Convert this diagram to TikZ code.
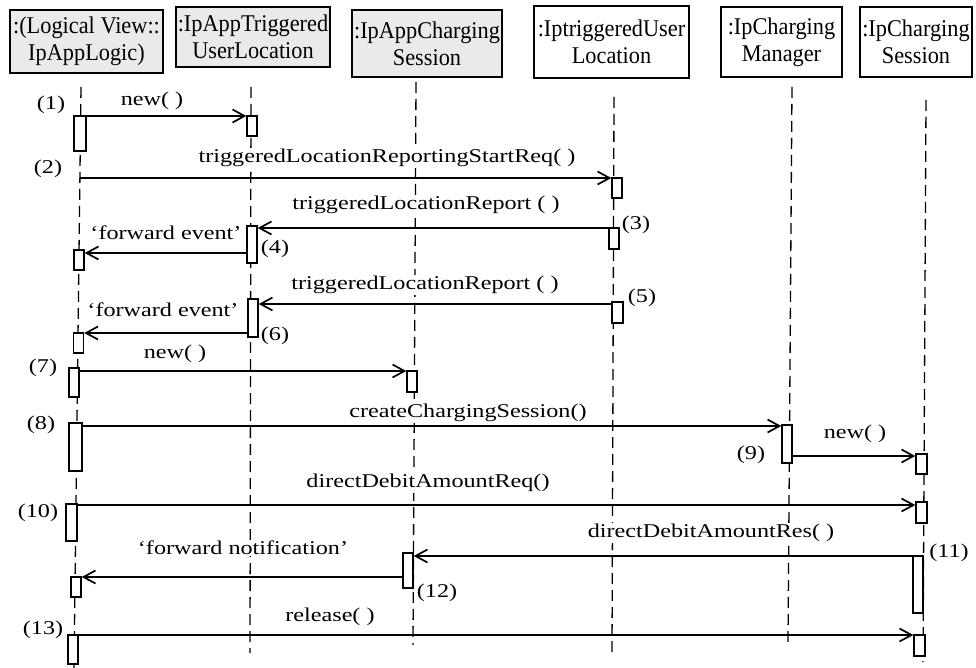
\documentclass[tikz,border=0pt]{standalone}
\usepackage{fontspec}
\setmainfont{Liberation Serif}
\newfontfamily\boxfont{Liberation Serif}[FakeStretch=0.93]
\newfontfamily\lblfont{Liberation Serif}[FakeStretch=1.24]
\usetikzlibrary{arrows.meta}
\definecolor{hdrgray}{RGB}{234,234,234}
\tikzset{
  hdr/.style={draw, line width=1.5pt, align=center, inner sep=0pt,
    font={\boxfont\fontsize{24}{27}\selectfont}},
  act/.style={draw, fill=white, line width=1.4pt, inner sep=0pt, minimum width=10pt},
  life/.style={dash pattern=on 11pt off 6pt, line width=1.3pt},
  msg/.style={line width=1.7pt, -{Straight Barb[length=12pt,width=13pt]}},
  lbl/.style={inner sep=1pt, fill=white, font={\lblfont\fontsize{19.5}{22}\selectfont}},
}
\begin{document}
\begin{tikzpicture}[x=1pt,y=-1pt]
\useasboundingbox (0,0) rectangle (976,668);
% headers
\node[hdr, fill=hdrgray, minimum width=153pt, minimum height=63pt] (h1) at (86.5,41.5) {:(Logical View::\\IpAppLogic)};
\node[hdr, fill=hdrgray, minimum width=154pt, minimum height=60pt] (h2) at (253,37) {:IpAppTriggered\\UserLocation};
\node[hdr, fill=hdrgray, minimum width=150pt, minimum height=67pt] (h3) at (427,43.5) {:IpAppCharging\\Session};
\node[hdr, fill=white, minimum width=155pt, minimum height=72pt] (h4) at (611.5,42) {:IptriggeredUser\\Location};
\node[hdr, fill=white, minimum width=121pt, minimum height=70pt] (h5) at (781.5,42) {:IpCharging\\Manager};
\node[hdr, fill=white, minimum width=112pt, minimum height=70pt] (h6) at (916,42) {:IpCharging\\Session};
% lifelines
\coordinate (L1t) at (81,87);   \coordinate (L1b) at (74,668);
\coordinate (L2t) at (251,87);  \coordinate (L2b) at (250,653);
\coordinate (L3t) at (416,82);  \coordinate (L3b) at (413,645);
\coordinate (L4t) at (614,97);  \coordinate (L4b) at (612,653);
\coordinate (L5t) at (792,87);  \coordinate (L5b) at (788,643);
\coordinate (L6t) at (926,100); \coordinate (L6b) at (923,662);
\draw[life] (L1t) -- (L1b);
\draw[life] (L2t) -- (L2b);
\draw[life] (L3t) -- (L3b);
\draw[life] (L4t) -- (L4b);
\draw[life] (L5t) -- (L5b);
\draw[life] (L6t) -- (L6b);
% activation boxes
\node[act, minimum width=12pt, minimum height=35pt] (a1) at (80,133.5) {};
\node[act, minimum height=20pt] (b1) at (252,126) {};
\node[act, minimum height=20pt] (c2) at (617,188) {};
\node[act, minimum height=21pt] (c3) at (614,238.5) {};
\node[act, minimum height=37pt] (d4) at (252,244.5) {};
\node[act, minimum height=20pt] (e4) at (79,260) {};
\node[act, minimum width=11pt, minimum height=21pt] (c5) at (617.5,312.5) {};
\node[act, minimum height=38pt] (d6) at (253,318) {};
\node[act, minimum height=20pt] (e6) at (78.5,343) {};
\node[act, minimum height=29pt] (a7) at (74,382.5) {};
\node[act, minimum height=21pt] (f7) at (412,381.5) {};
\node[act, minimum width=13pt, minimum height=48pt] (a8) at (75.5,447) {};
\node[act, minimum height=38pt] (g8) at (787,444) {};
\node[act, minimum width=11pt, minimum height=20pt] (h9) at (921.5,464) {};
\node[act, minimum width=11pt, minimum height=37pt] (a10) at (71.5,522.5) {};
\node[act, minimum width=11pt, minimum height=21pt] (h10) at (921.5,512.5) {};
\node[act, minimum height=57pt] (h11) at (918,584.5) {};
\node[act, minimum height=35pt] (f12) at (408,570.5) {};
\node[act, minimum height=20pt] (a12) at (76,587) {};
\node[act, minimum height=29pt] (a13) at (73,649.5) {};
\node[act, minimum width=11pt, minimum height=21pt] (h13) at (919.5,645.5) {};
% messages
\coordinate (s2) at (80,178);
\draw[msg] (a1.east |- 0,116) -- (b1.west |- 0,116);
\draw[msg] (s2) -- (c2.west |- 0,178);
\draw[msg] (c3.west |- 0,228) -- (d4.east |- 0,228);
\draw[msg] (d4.west |- 0,253) -- (e4.east |- 0,253);
\draw[msg] (c5.west |- 0,304) -- (d6.east |- 0,304);
\draw[msg] (d6.west |- 0,333) -- (e6.east |- 0,333);
\draw[msg] (a7.east |- 0,371) -- (f7.west |- 0,371);
\draw[msg] (a8.east |- 0,426) -- (g8.west |- 0,426);
\draw[msg] (g8.east |- 0,456) -- (h9.west |- 0,456);
\draw[msg] (a10.east |- 0,505) -- (h10.west |- 0,505);
\draw[msg] (h11.west |- 0,556) -- (f12.east |- 0,556);
\draw[msg] (f12.west |- 0,577) -- (a12.east |- 0,577);
\draw[msg] (a13.east |- 0,635) -- (h13.west |- 0,635);
% message labels
\node[lbl] (t1) at (152,101) {new( )};
\node[lbl] (t2) at (387,158) {triggeredLocationReportingStartReq( )};
\node[lbl] (t3) at (426,205) {triggeredLocationReport ( )};
\node[lbl] (t4) at (166,233) {‘forward event’};
\node[lbl] (t5) at (425,285) {triggeredLocationReport ( )};
\node[lbl] (t6) at (163,310) {‘forward event’};
\node[lbl] (t7) at (175,354) {new( )};
\node[lbl] (t8) at (468,413) {createChargingSession()};
\node[lbl] (t9) at (855,434) {new( )};
\node[lbl] (t10) at (428,483) {directDebitAmountReq()};
\node[lbl] (t11) at (711,533) {directDebitAmountRes( )};
\node[lbl] (t12) at (243,548) {‘forward notification’};
\node[lbl] (t13) at (330,617) {release( )};
% step numbers
\node[lbl] (n1) at (51,105) {(1)};
\node[lbl] (n2) at (48,169) {(2)};
\node[lbl] (n3) at (636,225) {(3)};
\node[lbl] (n4) at (275,249) {(4)};
\node[lbl] (n5) at (642,298) {(5)};
\node[lbl] (n6) at (275,336) {(6)};
\node[lbl] (n7) at (43,368) {(7)};
\node[lbl] (n8) at (41,425) {(8)};
\node[lbl] (n9) at (751,455) {(9)};
\node[lbl] (n10) at (38,513) {(10)};
\node[lbl] (n11) at (949,553) {(11)};
\node[lbl] (n12) at (437,593) {(12)};
\node[lbl] (n13) at (43,630) {(13)};
\end{tikzpicture}
\end{document}
